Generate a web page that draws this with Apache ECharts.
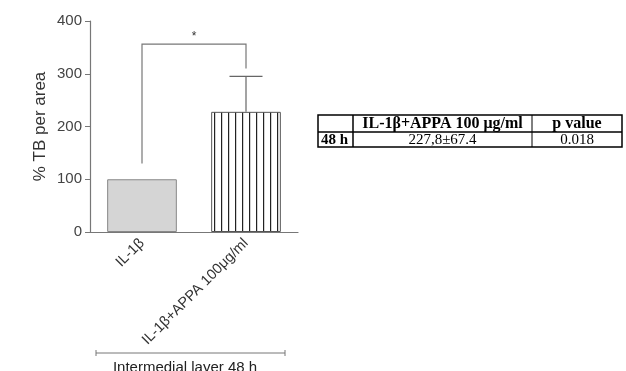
<!DOCTYPE html>
<html><head><meta charset="utf-8">
<script src="https://cdn.jsdelivr.net/npm/echarts@6/dist/echarts.min.js"></script>
<style>html,body{margin:0;padding:0;background:#fff}#c{width:626px;height:371px}</style>
</head><body><div id="c"></div>
<script>
const categories = ['IL-1β', 'IL-1β+APPA 100μg/ml'];
const means = [100, 227.8];
const sdUpper = [null, 67.4];
const bracket = {from: 0, to: 1, top: 356, leftLow: 130, rightLow: 310, label: '*'};
const yTicks = {min: 0, max: 400, interval: 100};
const groupLabel = 'Intermedial layer 48 h';
const tableHeader = ['', 'IL-1β+APPA 100 μg/ml', 'p value'];
const tableRow = ['48 h', '227,8±67.4', '0.018'];

const chart = echarts.init(document.getElementById('c'));

// stripe pattern
const pc = document.createElement('canvas');
pc.width = 7; pc.height = 8;
const pctx = pc.getContext('2d');
pctx.fillStyle = '#fff'; pctx.fillRect(0,0,7,8);
pctx.fillStyle = '#222'; pctx.fillRect(4,0,1.2,8);

const font = 'Liberation Sans, Arial, sans-serif';
const serif = 'Liberation Serif, Times New Roman, serif';

// table graphic
const tx = [318, 353, 532, 622];
const ty = [115, 132, 147];
const tableEls = [];
tableEls.push({type:'rect', shape:{x:tx[0], y:ty[0], width:tx[3]-tx[0], height:ty[2]-ty[0]}, style:{fill:'none', stroke:'#000', lineWidth:1.5}});
tableEls.push({type:'line', shape:{x1:tx[0], y1:ty[1], x2:tx[3], y2:ty[1]}, style:{stroke:'#000', lineWidth:1.5}});
tableEls.push({type:'line', shape:{x1:tx[1], y1:ty[0], x2:tx[1], y2:ty[2]}, style:{stroke:'#000', lineWidth:1.5}});
tableEls.push({type:'line', shape:{x1:tx[2], y1:ty[0], x2:tx[2], y2:ty[2]}, style:{stroke:'#000', lineWidth:1}});
for (let i = 0; i < 3; i++) {
  const cx = (tx[i] + tx[i+1]) / 2;
  tableEls.push({type:'text', x: cx, y: (ty[0]+ty[1])/2 + 0.5, style:{text: tableHeader[i], font: 'bold 16px ' + serif, fill:'#000', align:'center', verticalAlign:'middle'}});
  tableEls.push({type:'text', x: i === 0 ? tx[0] + 3 : cx, y: (ty[1]+ty[2])/2 + 0.5, style:{text: tableRow[i], font: (i===0?'bold ':'') + '15px ' + serif, fill:'#000', align: i===0?'left':'center', verticalAlign:'middle'}});
}

chart.setOption({
  animation: false,
  grid: {left: 90, right: 328, top: 21, bottom: 139},
  xAxis: {
    type: 'category', data: categories,
    axisLine: {lineStyle: {color: '#777', width: 1.2}},
    axisTick: {alignWithLabel: true, length: 5, lineStyle: {color: '#777'}},
    axisLabel: {rotate: 45, fontSize: 14.5, color: '#333', fontFamily: font, margin: 9}
  },
  yAxis: {
    type: 'value', min: yTicks.min, max: yTicks.max, interval: yTicks.interval,
    name: '% TB per area', nameLocation: 'middle', nameGap: 41, nameRotate: 90,
    nameTextStyle: {fontSize: 17, color: '#333', fontFamily: font},
    axisLine: {show: true, lineStyle: {color: '#777', width: 1.2}},
    axisTick: {show: true, length: 5, lineStyle: {color: '#777'}},
    axisLabel: {fontSize: 15, color: '#444', fontFamily: font, margin: 8},
    splitLine: {show: false}
  },
  series: [
    {
      type: 'bar', barWidth: '67%',
      data: [
        {value: means[0], itemStyle: {color: '#d5d5d5', borderColor: '#888', borderWidth: 1}},
        {value: means[1], itemStyle: {color: {image: pc, repeat: 'repeat'}, borderColor: '#555', borderWidth: 1}}
      ]
    },
    {
      type: 'custom',
      data: means.map((m, i) => [i, m, sdUpper[i]]),
      renderItem: function (params, api) {
        const sd = api.value(2);
        if (!sd) return null;
        const i = api.value(0), m = api.value(1);
        const base = api.coord([i, m]);
        const top = api.coord([i, m + sd]);
        const hw = 16.5;
        return {type: 'group', children: [
          {type: 'line', shape: {x1: base[0], y1: base[1], x2: top[0], y2: top[1]}, style: {stroke: '#666', lineWidth: 1.2}},
          {type: 'line', shape: {x1: top[0] - hw, y1: top[1], x2: top[0] + hw, y2: top[1]}, style: {stroke: '#666', lineWidth: 1.2}}
        ]};
      },
      z: 3
    },
    {
      type: 'custom',
      data: [[bracket.from, bracket.to, bracket.top, bracket.leftLow, bracket.rightLow]],
      renderItem: function (params, api) {
        const a = api.coord([api.value(0), api.value(3)]);
        const at = api.coord([api.value(0), api.value(2)]);
        const bt = api.coord([api.value(1), api.value(2)]);
        const b = api.coord([api.value(1), api.value(4)]);
        return {type: 'group', children: [
          {type: 'polyline', shape: {points: [a, at, bt, b]}, style: {stroke: '#777', lineWidth: 1.2, fill: 'none'}},
          {type: 'text', x: (at[0] + bt[0]) / 2, y: at[1] - 2, style: {text: bracket.label, font: '12px ' + font, fill: '#333', align: 'center', verticalAlign: 'bottom'}}
        ]};
      },
      z: 3
    }
  ],
  graphic: [
    {type: 'line', shape: {x1: 96, y1: 353, x2: 285, y2: 353}, style: {stroke: '#777', lineWidth: 1}},
    {type: 'line', shape: {x1: 96, y1: 350, x2: 96, y2: 356}, style: {stroke: '#777', lineWidth: 1}},
    {type: 'line', shape: {x1: 285, y1: 350, x2: 285, y2: 356}, style: {stroke: '#777', lineWidth: 1}},
    {type: 'text', x: 185, y: 368, style: {text: groupLabel, font: '15px ' + font, fill: '#222', align: 'center', verticalAlign: 'middle'}}
  ].concat(tableEls)
});
</script></body></html>
